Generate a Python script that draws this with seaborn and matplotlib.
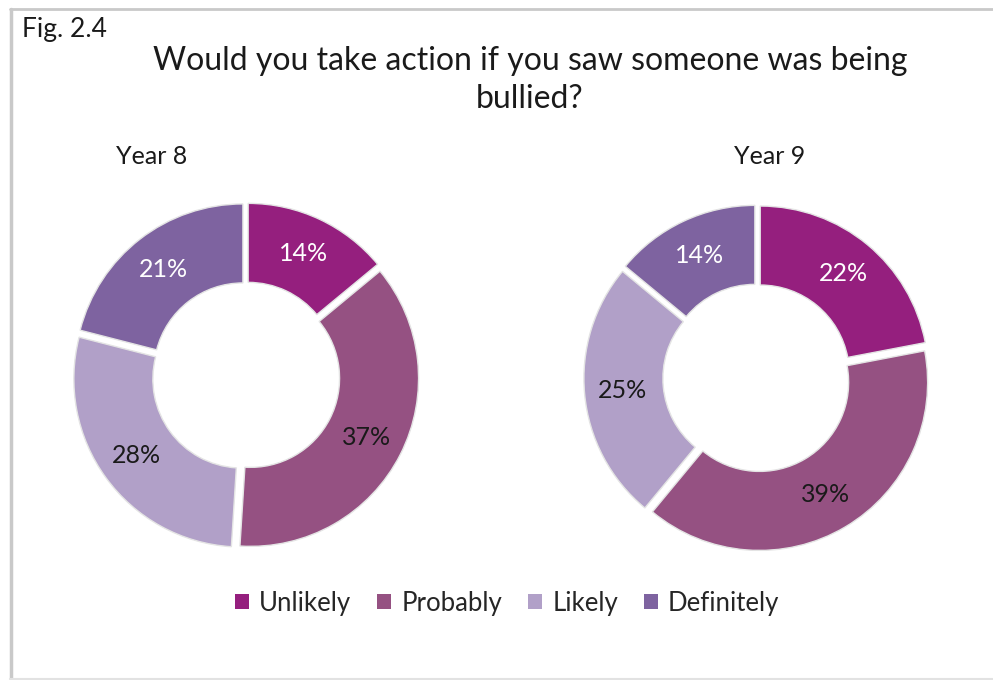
import matplotlib
matplotlib.use("Agg")
import matplotlib.pyplot as plt
import seaborn as sns
from matplotlib.lines import Line2D
from matplotlib.patches import Patch

# Survey responses (percent of pupils)
categories = ["Unlikely", "Probably", "Likely", "Definitely"]
year8_values = [14, 37, 28, 21]
year9_values = [22, 39, 25, 14]
panel_titles = ["Year 8", "Year 9"]

sns.set_theme(style="white")
plt.rcParams["font.family"] = ["Lato", "DejaVu Sans"]

palette = sns.color_palette(["#951f7e", "#955182", "#b1a0c8", "#7e63a0"])
label_colors = ["white", "#1a1a1a", "#1a1a1a", "white"]

W, H = 993, 680
fig = plt.figure(figsize=(W / 100, H / 100), dpi=100)
fig.patch.set_facecolor("white")

# frame lines around the figure
frame_kw = dict(color="#c9c9c9", transform=fig.transFigure)
fig.add_artist(Line2D([11 / W, 11 / W], [1 / H, 671 / H], lw=2.5, **frame_kw))
fig.add_artist(Line2D([10 / W, 1.0], [671 / H, 671 / H], lw=2.0, **frame_kw))
fig.add_artist(Line2D([10 / W, 1.0], [1.5 / H, 1.5 / H], lw=1.5, color="#e2e2e2",
                      transform=fig.transFigure))

fig.text(22 / W, 1 - 30 / H, "Fig. 2.4", fontsize=19, ha="left", va="center",
         color="#1a1a1a")
fig.text(530 / W, 1 - 61 / H, "Would you take action if you saw someone was being",
         fontsize=23, ha="center", va="center", color="#1a1a1a")
fig.text(530 / W, 1 - 99 / H, "bullied?", fontsize=23, ha="center", va="center",
         color="#1a1a1a")

size = 400
centers = [(246, 376), (757, 378)]
title_pos = [(152, 157), (770, 157)]
series = [year8_values, year9_values]

for (cx, cy), (tx, ty), vals, ttl in zip(centers, title_pos, series, panel_titles):
    ax = fig.add_axes([(cx - size / 2) / W, (H - cy - size / 2) / H, size / W, size / H])
    wedges, texts, autotexts = ax.pie(
        vals,
        colors=palette,
        startangle=90,
        counterclock=False,
        explode=[0.03] * len(vals),
        radius=1.0,
        autopct="%1.0f%%",
        pctdistance=0.775,
        wedgeprops=dict(width=0.47, edgecolor="#e4e4e4", linewidth=1.0),
        textprops=dict(fontsize=18),
    )
    for t, c in zip(autotexts, label_colors):
        t.set_color(c)
    ax.set_xlim(-1.19, 1.19)
    ax.set_ylim(-1.19, 1.19)
    ax.set_aspect("equal")
    ax.axis("off")
    fig.text(tx / W, 1 - ty / H, ttl, fontsize=18, ha="center", va="center",
             color="#1a1a1a")

handles = [Patch(facecolor=c, edgecolor="none") for c in palette]
fig.legend(handles, categories, loc="center", bbox_to_anchor=(507 / W, 1 - 603 / H),
           ncol=4, frameon=False, fontsize=18.5, handlelength=0.55, handleheight=0.55,
           handletextpad=0.4, columnspacing=1.0)

fig.savefig("out.png", dpi=100, facecolor="white")
